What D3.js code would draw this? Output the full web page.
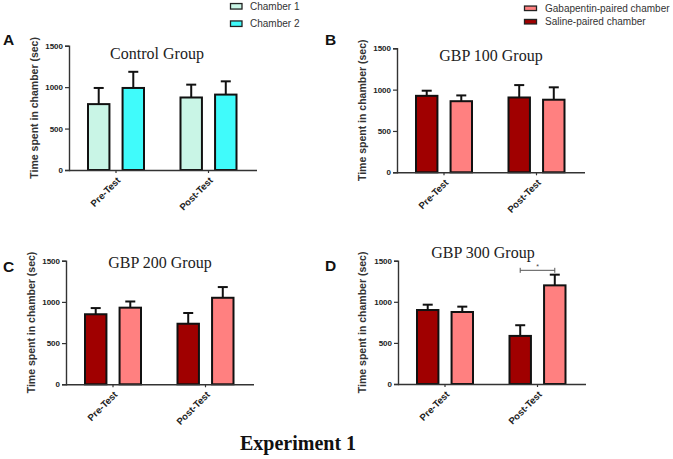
<!DOCTYPE html>
<html><head><meta charset="utf-8">
<script src="https://cdn.jsdelivr.net/npm/d3@7"></script>
<style>body{margin:0;background:#fff}svg{display:block}</style>
</head><body>
<svg id="chart" width="673" height="459"></svg>
<script>
// ---- data ----
const categories = ["Pre-Test", "Post-Test"];
const yTicks = [0, 500, 1000, 1500];
const controlSeries = ["Chamber 1", "Chamber 2"];
const gbpSeries = ["Saline-paired chamber", "Gabapentin-paired chamber"];
const gbpLegendOrder = ["Gabapentin-paired chamber", "Saline-paired chamber"];
const panelLetters = ["A", "B", "C", "D"];
const panelTitles = ["Control Group", "GBP 100 Group", "GBP 200 Group", "GBP 300 Group"];
// means [series][category], sem [series][category]
const controlMean = [[795, 875], [990, 910]];
const controlSem  = [[195, 155], [195, 160]];
const gbp100Mean  = [[925, 905], [860, 878]];
const gbp100Sem   = [[62, 150], [70, 150]];
const gbp200Mean  = [[850, 735], [930, 1050]];
const gbp200Sem   = [[75, 130], [75, 130]];
const gbp300Mean  = [[900, 585], [876, 1200]];
const gbp300Sem   = [[65, 130], [65, 130]];
const sigLevel = 1383; // bracket height in panel D (Post-Test)
const figureTitle = "Experiment 1";
const yLabel = "Time spent in chamber (sec)";

// ---- layout / style ----
const colors = {
  "Chamber 1": "#c9f5e6", "Chamber 2": "#40fbfb",
  "Saline-paired chamber": "#a00000", "Gabapentin-paired chamber": "#ff8080"
};
const layouts = [
  {ax: 69,  top: 45.7,  bot: 170,   letter:[3,45],   title:[157,59],  ylab:35},
  {ax: 397, top: 48.3,  bot: 172.3, letter:[325,45], title:[491,61],  ylab:363},
  {ax: 66,  top: 260.7, bot: 384.3, letter:[3,272],  title:[160,268], ylab:32},
  {ax: 398, top: 260.7, bot: 384,   letter:[325,271],title:[483,258], ylab:363}
];
const panelData = [
  {series: controlSeries, mean: controlMean, sem: controlSem},
  {series: gbpSeries, mean: gbp100Mean, sem: gbp100Sem},
  {series: gbpSeries, mean: gbp200Mean, sem: gbp200Sem},
  {series: gbpSeries, mean: gbp300Mean, sem: gbp300Sem}
];

const svg = d3.select("#chart");
const sans = "Arial, 'Liberation Sans', Helvetica, sans-serif";
const serif = "'Times New Roman', 'Liberation Serif', serif";

panelData.forEach((pd, i) => {
  const L = layouts[i];
  const g = svg.append("g");
  const y = d3.scaleLinear().domain([0, 1500]).range([L.bot, L.top]);
  const x0 = d3.scaleBand().domain(categories).range([L.ax + 0.75, L.ax + 185.75]).padding(0);
  const x1 = d3.scaleBand().domain(pd.series).range([0, 56]).paddingInner(0.38).paddingOuter(0);
  const off = x0.bandwidth() / 2 - 28;

  // bars
  pd.series.forEach((s, si) => {
    categories.forEach((c, ci) => {
      const m = pd.mean[si][ci], e = pd.sem[si][ci];
      const bx = x0(c) + off + x1(s);
      const cx = bx + x1.bandwidth() / 2;
      g.append("line").attr("x1", cx).attr("x2", cx).attr("y1", y(m)).attr("y2", y(m + e))
        .attr("stroke", "#111").attr("stroke-width", 2);
      g.append("line").attr("x1", cx - 5).attr("x2", cx + 5).attr("y1", y(m + e)).attr("y2", y(m + e))
        .attr("stroke", "#111").attr("stroke-width", 2);
      g.append("rect").attr("x", bx).attr("y", y(m)).attr("width", x1.bandwidth())
        .attr("height", y(0) - y(m)).attr("fill", colors[s])
        .attr("stroke", "#111").attr("stroke-width", 2);
    });
  });

  // y axis
  const yAxis = d3.axisLeft(y).tickValues(yTicks).tickFormat(d3.format("d")).tickSize(4).tickPadding(2);
  const ya = g.append("g").attr("transform", `translate(${L.ax},0)`).call(yAxis);
  ya.select(".domain").attr("stroke", "#333").attr("stroke-width", 1.4);
  ya.selectAll(".tick line").attr("stroke", "#333").attr("stroke-width", 1.2);
  ya.selectAll(".tick text").attr("font-family", sans).attr("font-size", 8)
    .attr("font-weight", "bold").attr("fill", "#222");

  // x axis
  const xa = g.append("g").attr("transform", `translate(0,${L.bot})`)
    .call(d3.axisBottom(x0).tickSize(3).tickSizeOuter(0).tickPadding(3));
  xa.select(".domain").attr("d", `M${L.ax},0.5H${L.ax + 188}`).attr("stroke", "#333").attr("stroke-width", 1.4);
  xa.selectAll(".tick line").attr("stroke", "#333").attr("stroke-width", 1.2);
  xa.selectAll(".tick text").attr("font-family", sans).attr("font-size", 9.5)
    .attr("font-weight", "bold").attr("fill", "#222")
    .attr("text-anchor", "end").attr("dy", null)
    .attr("transform", "translate(5,11) rotate(-45)").attr("y", 0).attr("x", 0);

  // y label
  g.append("text").attr("transform", `translate(${L.ylab},${(L.top + L.bot) / 2}) rotate(-90)`)
    .attr("text-anchor", "middle").attr("dominant-baseline", "middle")
    .attr("font-family", sans).attr("font-size", 10.5).attr("font-weight", "bold")
    .attr("fill", "#333").text(yLabel);

  // title
  g.append("text").attr("x", L.title[0]).attr("y", L.title[1]).attr("text-anchor", "middle")
    .attr("font-family", serif).attr("font-size", 16).attr("fill", "#222").text(panelTitles[i]);

  // letter
  g.append("text").attr("x", L.letter[0]).attr("y", L.letter[1])
    .attr("font-family", sans).attr("font-size", 15.5).attr("font-weight", "bold")
    .attr("fill", "#111").text(panelLetters[i]);

  // significance bracket for panel D
  if (i === 3) {
    const xa1 = x0("Post-Test") + off + x1(pd.series[0]) + x1.bandwidth() / 2;
    const xa2 = x0("Post-Test") + off + x1(pd.series[1]) + x1.bandwidth() / 2;
    const yy = y(sigLevel);
    g.append("path").attr("d", `M${xa1},${yy - 2.5}V${yy + 2.5}M${xa1},${yy}H${xa2}M${xa2},${yy - 2.5}V${yy + 2.5}`)
      .attr("stroke", "#555").attr("stroke-width", 1).attr("fill", "none");
    g.append("text").attr("x", (xa1 + xa2) / 2).attr("y", yy - 1).attr("text-anchor", "middle")
      .attr("font-family", sans).attr("font-size", 7).attr("fill", "#444").text("*");
  }
});

// legends
function legend(items, bx, tx, ys, bw, bh) {
  items.forEach((s, k) => {
    svg.append("rect").attr("x", bx).attr("y", ys[k] - bh / 2).attr("width", bw).attr("height", bh)
      .attr("fill", colors[s]).attr("stroke", "#222").attr("stroke-width", 1.3);
    svg.append("text").attr("x", tx).attr("y", ys[k]).attr("dominant-baseline", "central")
      .attr("font-family", sans).attr("font-size", 10).attr("fill", "#333").text(s);
  });
}
legend(controlSeries, 230.5, 250, [6.3, 23.7], 11.5, 5.5);
legend(gbpLegendOrder, 524.5, 545, [8.3, 21.7], 12, 4.5);

// figure title
svg.append("text").attr("x", 298).attr("y", 450).attr("text-anchor", "middle")
  .attr("font-family", serif).attr("font-size", 20).attr("font-weight", "bold")
  .attr("fill", "#111").text(figureTitle);
</script>
</body></html>
